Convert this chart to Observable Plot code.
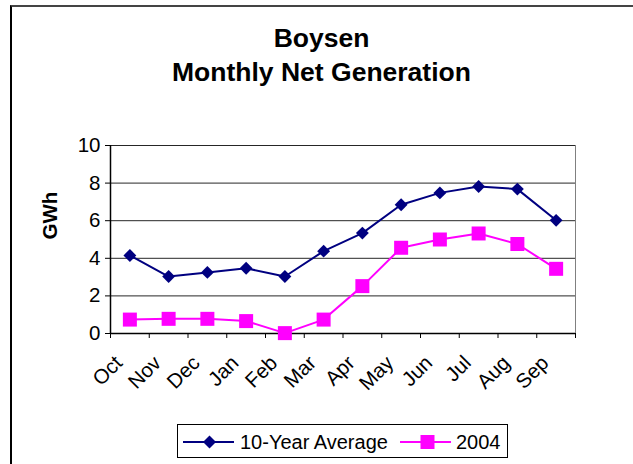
<!DOCTYPE html>
<html>
<head>
<meta charset="utf-8">
<script src="https://cdn.jsdelivr.net/npm/d3@7"></script>
<script src="https://cdn.jsdelivr.net/npm/@observablehq/plot@0.6"></script>
<style>
  html, body { margin: 0; padding: 0; background: #fff; }
  #wrap { position: relative; width: 633px; height: 464px; overflow: hidden; font-family: "Liberation Sans", Arial, sans-serif; color: #000; }
  #frame { position: absolute; left: 10px; top: 5px; right: -10px; bottom: -10px; border-top: 2px solid #444; border-left: 2px solid #000; }
  #title { position: absolute; left: 5px; width: 633px; top: 21px; text-align: center; font-weight: bold; font-size: 26.5px; line-height: 34px; }
  #chart { position: absolute; left: 0; top: 0; }
  #legend { position: absolute; left: 177px; top: 424px; width: 331px; height: 34px; border: 1px solid #000; box-sizing: border-box; }
  #legend svg { position: absolute; left: 0; top: 0; }
</style>
</head>
<body>
<div id="wrap">
  <div id="frame"></div>
  <div id="title"></div>
  <div id="chart"></div>
  <div id="legend"></div>
</div>
<script>
const titleLines = ["Boysen", "Monthly Net Generation"];
const months = ["Oct","Nov","Dec","Jan","Feb","Mar","Apr","May","Jun","Jul","Aug","Sep"];
const avg10 = [4.15, 3.03, 3.25, 3.47, 3.03, 4.38, 5.34, 6.85, 7.48, 7.82, 7.68, 6.02];
const y2004 = [0.74, 0.78, 0.78, 0.66, 0.02, 0.74, 2.52, 4.56, 5.0, 5.32, 4.76, 3.44];
const seriesNames = ["10-Year Average", "2004"];
const seriesColors = ["#000080", "#FF00FF"];
const yTicks = [0, 2, 4, 6, 8, 10];
const yLabel = "GWh";

document.getElementById("title").innerHTML = titleLines.join("<br>");

const rowsA = months.map((m, i) => ({i: i + 0.5, m, v: avg10[i]}));
const rowsB = months.map((m, i) => ({i: i + 0.5, m, v: y2004[i]}));
const labelRows = months.map((m, i) => ({i: i + 0.5, m}));
const bounds = d3.range(months.length + 1);

const fs = 20.5;
const chart = Plot.plot({
  width: 633,
  height: 464,
  marginLeft: 110,
  marginRight: 58,
  marginTop: 145,
  marginBottom: 131,
  style: {fontFamily: "Liberation Sans, Arial, sans-serif", fontSize: fs + "px", background: "transparent", color: "#000"},
  x: {domain: [0, months.length], axis: null},
  y: {domain: [0, 10], axis: null},
  marks: [
    Plot.gridY(yTicks.filter(d => d > 0), {stroke: "#000", strokeOpacity: 0.85, strokeWidth: 1}),
    Plot.ruleX([months.length], {stroke: "#808080", strokeWidth: 1}),
    Plot.ruleX([0], {stroke: "#000", strokeWidth: 1.5}),
    Plot.ruleY([0], {stroke: "#000", strokeWidth: 1.5}),
    Plot.axisY({ticks: yTicks, tickSize: 5, tickPadding: 5, label: null, fontSize: fs, stroke: "#000", strokeOpacity: 1}),
    Plot.axisX({ticks: bounds, tickSize: 5, tickFormat: () => "", label: null, stroke: "#000", strokeOpacity: 1}),
    Plot.text(labelRows, {x: "i", text: "m", frameAnchor: "bottom", rotate: -45, textAnchor: "end", lineAnchor: "middle", dx: -11, dy: 26, fontSize: fs}),
    Plot.text([yLabel], {frameAnchor: "left", dx: -60, rotate: -90, fontWeight: "bold", fontSize: fs, text: d => d}),
    Plot.line(rowsA, {x: "i", y: "v", stroke: seriesColors[0], strokeWidth: 2}),
    Plot.dot(rowsA, {x: "i", y: "v", symbol: "diamond2", r: 5.8, fill: seriesColors[0], stroke: "none"}),
    Plot.line(rowsB, {x: "i", y: "v", stroke: seriesColors[1], strokeWidth: 2}),
    Plot.dot(rowsB, {x: "i", y: "v", symbol: "square", r: 7.9, fill: seriesColors[1], stroke: "none"})
  ]
});
document.getElementById("chart").appendChild(chart);

// Legend
const legend = document.getElementById("legend");
const ns = "http://www.w3.org/2000/svg";
const lsvg = document.createElementNS(ns, "svg");
lsvg.setAttribute("width", 331);
lsvg.setAttribute("height", 34);
const items = [
  {x0: 5, x1: 56, tx: 62, sym: "diamond"},
  {x0: 222, x1: 273, tx: 278, sym: "square"}
];
const cy = 17;
items.forEach((it, k) => {
  const ln = document.createElementNS(ns, "line");
  ln.setAttribute("x1", it.x0); ln.setAttribute("x2", it.x1);
  ln.setAttribute("y1", cy); ln.setAttribute("y2", cy);
  ln.setAttribute("stroke", seriesColors[k]); ln.setAttribute("stroke-width", 2);
  lsvg.appendChild(ln);
  const cx = (it.x0 + it.x1) / 2 + (k === 0 ? 1 : 2);
  const p = document.createElementNS(ns, "path");
  if (it.sym === "diamond") {
    const h = 6.5;
    p.setAttribute("d", `M${cx},${cy - h}L${cx + h},${cy}L${cx},${cy + h}L${cx - h},${cy}Z`);
  } else {
    const h = 7;
    p.setAttribute("d", `M${cx - h},${cy - h}H${cx + h}V${cy + h}H${cx - h}Z`);
  }
  p.setAttribute("fill", seriesColors[k]);
  lsvg.appendChild(p);
  const t = document.createElementNS(ns, "text");
  t.setAttribute("x", it.tx); t.setAttribute("y", cy);
  t.setAttribute("dy", "0.35em");
  t.setAttribute("font-size", 20);
  t.setAttribute("font-family", "Liberation Sans, Arial, sans-serif");
  t.textContent = seriesNames[k];
  lsvg.appendChild(t);
});
legend.appendChild(lsvg);
</script>
</body>
</html>
